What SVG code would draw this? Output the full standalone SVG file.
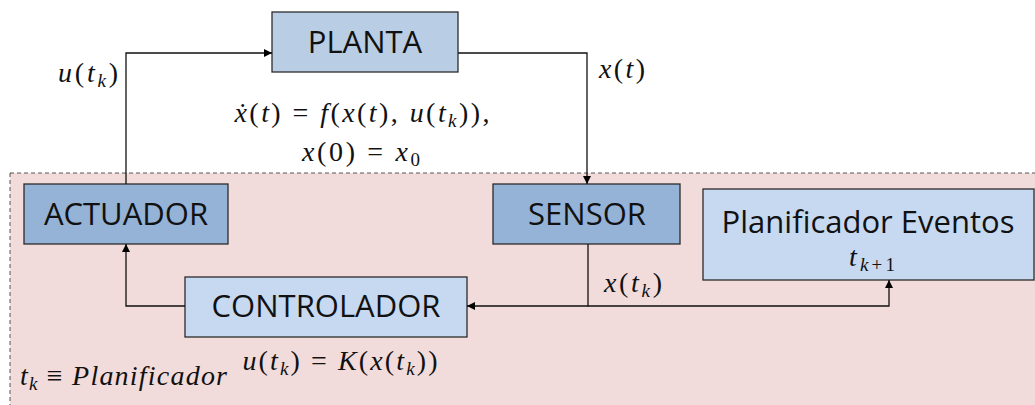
<svg xmlns="http://www.w3.org/2000/svg" width="1035" height="405" viewBox="0 0 1035 405">
  <defs>
    <marker id="arrow" viewBox="0 0 10 10" refX="10" refY="5" markerWidth="8" markerHeight="8" markerUnits="userSpaceOnUse" orient="auto">
      <path d="M0,0 L10,5 L0,10 z" fill="#000"/>
    </marker>
    <style>
      .box { stroke: #2b2b2b; stroke-width: 1.3; }
      .plant { fill: #b9cde5; }
      .dev { fill: #95b3d7; }
      .ctl { fill: #c6d9f1; }
      .label { font-family: "Open Sans", "Noto Sans", sans-serif; font-size: 31px; fill: #111; text-anchor: middle; }
      .math { font-family: "Liberation Serif", serif; font-size: 28px; fill: #111; }
      .i { font-style: italic; }
      .sub { font-size: 19px; }
      .wire { fill: none; stroke: #111; stroke-width: 1.3; }
    </style>
  </defs>

  <rect width="1035" height="405" fill="#fff"/>

  <!-- event-triggered scope -->
  <g id="scope">
    <rect x="10" y="173" width="1040" height="250" fill="#f2dcdb" stroke="#555" stroke-width="1" stroke-dasharray="4 3"/>
  </g>

  <g id="planta">
    <rect class="box plant" x="272" y="12" width="186" height="60"/>
    <text class="label" x="365" y="53">PLANTA</text>
  </g>

  <g id="actuador">
    <rect class="box dev" x="24" y="184" width="204" height="60"/>
    <text class="label" x="126" y="225">ACTUADOR</text>
  </g>

  <g id="sensor">
    <rect class="box dev" x="493" y="184" width="187" height="60"/>
    <text class="label" x="587" y="225">SENSOR</text>
  </g>

  <g id="controlador">
    <rect class="box ctl" x="185" y="277" width="282" height="60"/>
    <text class="label" x="326" y="317">CONTROLADOR</text>
  </g>

  <g id="planificador">
    <rect class="box ctl" x="703" y="189" width="331" height="91"/>
    <text class="label" x="868" y="233">Planificador Eventos</text>
    <text class="math" x="872" y="266" text-anchor="middle" textLength="46"><tspan class="i">t</tspan><tspan class="sub" dy="5"><tspan class="i">k</tspan>+1</tspan></text>
  </g>

  <g id="connectors">
    <path class="wire" d="M126,184 V53 H272" marker-end="url(#arrow)"/>
    <path class="wire" d="M458,53 H587 V184" marker-end="url(#arrow)"/>
    <path class="wire" d="M588,244 V306 H467" marker-end="url(#arrow)"/>
    <path class="wire" d="M588,306 H889 V280" marker-end="url(#arrow)"/>
    <path class="wire" d="M185,306 H126 V244" marker-end="url(#arrow)"/>
  </g>

  <!-- signal and equation labels -->
  <g id="labels">
    <text class="math" x="88" y="82" text-anchor="middle" textLength="60"><tspan class="i">u</tspan>(<tspan class="i">t</tspan><tspan class="i sub" dy="5">k</tspan><tspan dy="-5">)</tspan></text>
    <text class="math" x="622" y="78" text-anchor="middle" textLength="46"><tspan class="i">x</tspan>(<tspan class="i">t</tspan>)</text>
    <text class="math" x="362" y="122" text-anchor="middle" textLength="255"><tspan class="i">ẋ</tspan>(<tspan class="i">t</tspan>) = <tspan class="i">f</tspan>(<tspan class="i">x</tspan>(<tspan class="i">t</tspan>), <tspan class="i">u</tspan>(<tspan class="i">t</tspan><tspan class="i sub" dy="5">k</tspan><tspan dy="-5">)),</tspan></text>
    <text class="math" x="361" y="161" text-anchor="middle" textLength="118"><tspan class="i">x</tspan>(0) = <tspan class="i">x</tspan><tspan class="sub" dy="5">0</tspan></text>
    <text class="math" x="633" y="292" text-anchor="middle" textLength="58"><tspan class="i">x</tspan>(<tspan class="i">t</tspan><tspan class="i sub" dy="5">k</tspan><tspan dy="-5">)</tspan></text>
    <text class="math" x="340" y="370" text-anchor="middle" textLength="195"><tspan class="i">u</tspan>(<tspan class="i">t</tspan><tspan class="i sub" dy="5">k</tspan><tspan dy="-5">) = </tspan><tspan class="i">K</tspan>(<tspan class="i">x</tspan>(<tspan class="i">t</tspan><tspan class="i sub" dy="5">k</tspan><tspan dy="-5">))</tspan></text>
    <text class="math" x="20" y="385" textLength="207"><tspan class="i">t</tspan><tspan class="i sub" dy="5">k</tspan><tspan dy="-5"> ≡ </tspan><tspan class="i">Planificador</tspan></text>
  </g>
</svg>
